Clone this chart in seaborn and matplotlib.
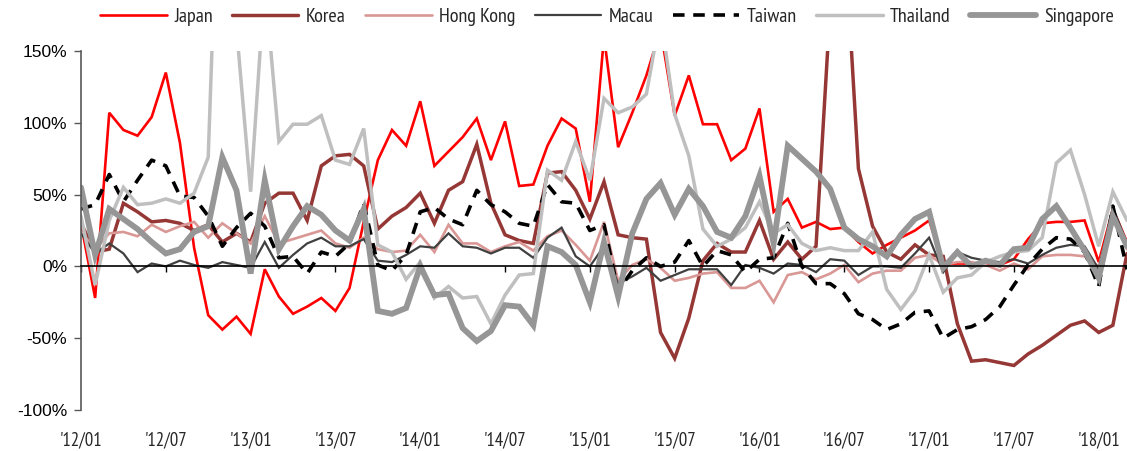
import matplotlib
matplotlib.use("Agg")
import matplotlib.pyplot as plt
import seaborn as sns
import pandas as pd

# Monthly year-on-year growth of visitor arrivals by destination, 2012/01 - 2018/03 (%)
months = [f"{y}/{m:02d}" for y in range(2012, 2019) for m in range(1, 13)][:75]

japan = [30, -22, 107, 95, 91, 104, 135, 86, 13, -34, -44, -35, -47, -2, -21, -33, -28, -22, -31, -15,
         31, 74, 95, 84, 115, 70, 80, 90, 103, 74, 101, 56, 57, 84, 103, 96, 45, 160, 83, 107,
         133, 165, 105, 133, 99, 99, 74, 82, 110, 38, 47, 27, 31, 26, 27, 17, 9, 15, 20, 25,
         32, 2, 2, 2, 1, 1, 5, 19, 30, 31, 31, 32, 3, 40, 17]
korea = [30, 10, 12, 44, 38, 31, 32, 30, 25, 29, 17, 23, 17, 44, 51, 51, 32, 70, 77, 78,
         70, 26, 35, 41, 51, 30, 53, 59, 85, 44, 22, 18, 16, 65, 66, 53, 33, 59, 22, 20,
         19, -46, -64, -36, 4, 16, 10, 10, 32, 5, 17, 5, 14, 180, 235, 68, 28, 10, 5, 15,
         8, 7, -40, -66, -65, -67, -69, -61, -55, -48, -41, -38, -46, -41, 9]
hong_kong = [24, 12, 23, 24, 21, 29, 24, 28, 31, 20, 30, 23, 16, 35, 16, 19, 22, 25, 16, 13,
             20, 12, 10, 11, 22, 10, 29, 16, 16, 10, 14, 17, 11, 21, 25, 15, 4, 31, -10, 1,
             5, -1, -10, -8, -5, -4, -15, -15, -10, -25, -6, -4, -9, -5, 1, -11, -5, -3, -3, 6,
             8, 1, 3, 3, 1, -3, 2, -2, 7, 8, 8, 7, 0, 35, 12]
macau = [23, 9, 16, 9, -4, 2, 0, 4, 1, -1, 3, 1, -1, 17, -1, 8, 16, 20, 14, 14,
         19, 4, 3, 8, 14, 13, 23, 14, 13, 9, 13, 13, 6, 20, 27, 7, 0, 14, -12, -7,
         -1, -10, -6, -2, -2, -2, -13, 1, -1, -5, 2, 1, -4, 5, 4, -6, 0, 0, -1, 9,
         20, -4, 10, 6, 4, 3, 5, 2, 8, 13, 15, 14, -2, 41, 16]
taiwan = [40, 43, 64, 45, 60, 74, 70, 49, 48, 35, 14, 27, 37, 28, 6, 7, -5, 10, 7, 16,
          44, 1, -3, 8, 38, 41, 33, 29, 53, 43, 38, 30, 28, 57, 45, 44, 25, 29, -17, -3,
          6, 0, 3, 18, 0, 11, 8, -4, 5, 6, 30, 0, -12, -12, -19, -33, -37, -44, -40, -32,
          -31, -50, -44, -42, -37, -28, -13, 1, 12, 20, 19, 10, -14, 42, -2]
thailand = [35, -13, 32, 55, 43, 44, 47, 44, 51, 76, 360, 166, 52, 198, 87, 99, 99, 105, 74, 71,
            96, 15, 10, -9, 3, -22, -14, -22, -21, -40, -20, -6, -5, 67, 60, 87, 60, 117, 107, 111,
            120, 175, 106, 77, 26, 14, 19, 27, 45, 23, 29, 16, 11, 13, 11, 11, 24, -16, -30, -17,
            8, -18, -8, -6, 3, 7, 10, 11, 20, 72, 81, 50, 14, 52, 32]
singapore = [55, 8, 40, 33, 26, 17, 9, 12, 24, 28, 76, 53, -5, 60, 12, 28, 42, 36, 25, 18,
             40, -31, -33, -29, 0, -20, -19, -43, -52, -45, -27, -28, -41, 14, 10, 1, -25, 17, -21, 23,
             47, 58, 36, 54, 42, 24, 20, 35, 63, 16, 84, 75, 66, 54, 27, 19, 14, 7, 22, 33,
             38, -1, 10, 0, 4, 1, 12, 13, 33, 42, 27, 11, -8, 35, 14]

series_names = ["Japan", "Korea", "Hong Kong", "Macau", "Taiwan", "Thailand", "Singapore"]
series_values = [japan, korea, hong_kong, macau, taiwan, thailand, singapore]

tick_labels = ["'12/01", "'12/07", "'13/01", "'13/07", "'14/01", "'14/07", "'15/01",
               "'15/07", "'16/01", "'16/07", "'17/01", "'17/07", "'18/01"]
y_ticks = [-100, -50, 0, 50, 100, 150]

styles = {
    "Japan":     dict(color="#FF0000", lw=1.9, ls="-"),
    "Korea":     dict(color="#953735", lw=2.5, ls="-"),
    "Hong Kong": dict(color="#D99795", lw=1.9, ls="-"),
    "Macau":     dict(color="#404040", lw=1.6, ls="-"),
    "Taiwan":    dict(color="#000000", lw=2.6, ls=(0, (3.2, 2.4))),
    "Thailand":  dict(color="#BFBFBF", lw=2.5, ls="-"),
    "Singapore": dict(color="#969696", lw=4.2, ls="-"),
}

df = pd.DataFrame({"idx": range(len(months)), "month": months})
for name, vals in zip(series_names, series_values):
    df[name] = vals

sns.set_theme(style="white")
regular = ["Liberation Sans", "DejaVu Sans"]
narrow = ["PT Sans Narrow", "Liberation Sans", "DejaVu Sans"]
plt.rcParams["font.family"] = regular

fig = plt.figure(figsize=(11.27, 4.51), dpi=100)
ax = fig.add_axes([81 / 1127, 41 / 451, 1046 / 1127, 359 / 451])

handles = []
for name in series_names:
    st = styles[name]
    sns.lineplot(data=df, x="idx", y=name, ax=ax, color=st["color"], linewidth=st["lw"],
                 linestyle=st["ls"], label=name, legend=False, solid_joinstyle="miter")
    handles.append(ax.get_lines()[-1])

ax.set_xlim(0, len(months) - 1)
ax.set_ylim(-100, 150)
ax.set_xlabel("")
ax.set_ylabel("")

# y axis
ax.set_yticks(y_ticks)
ax.set_yticklabels([f"{v}%" for v in y_ticks], fontsize=12.5, color="#000000")
ax.tick_params(axis="y", direction="out", length=5, width=1, color="#595959", pad=5, left=True)
ax.spines["left"].set_color("#595959")
ax.spines["left"].set_linewidth(1.2)
for s in ["top", "right"]:
    ax.spines[s].set_visible(False)

# x axis drawn through zero, labels along the bottom
tick_pos = list(range(0, len(months), 6))
ax.spines["bottom"].set_position(("data", 0))
ax.spines["bottom"].set_color("#000000")
ax.spines["bottom"].set_linewidth(1.2)
ax.set_xticks(tick_pos)
ax.set_xticklabels([])
ax.tick_params(axis="x", direction="out", length=4, width=1, color="#000000", bottom=True)

sec = ax.secondary_xaxis("bottom")
sec.set_xticks(tick_pos)
sec.set_xticklabels(tick_labels, fontsize=13.5, family=narrow)
sec.tick_params(length=0, pad=15)
sec.spines["bottom"].set_visible(False)

ax.grid(False)

leg = fig.legend(handles=handles, labels=series_names, loc="center",
                 bbox_to_anchor=(0.5386, 0.962), ncol=7, frameon=False,
                 handlelength=3.3, handletextpad=0.38, columnspacing=0.95,
                 prop={"family": narrow, "size": 14.5})

fig.savefig("out.png", dpi=100)
